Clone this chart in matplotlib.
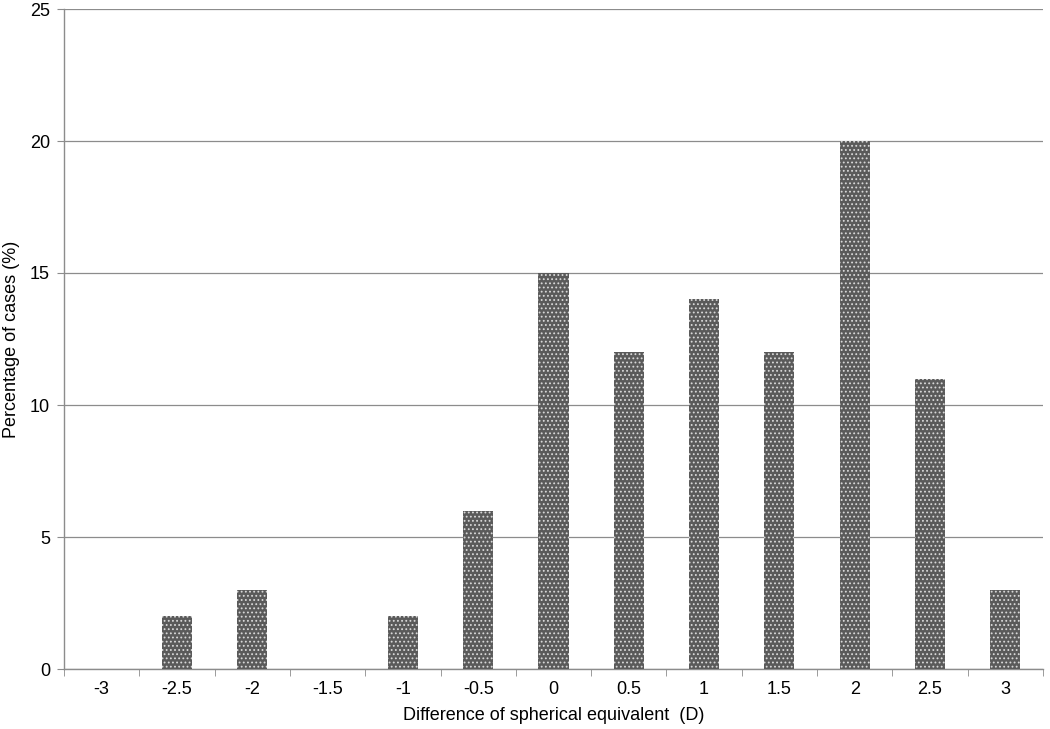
import matplotlib.pyplot as plt
import numpy as np

categories = ["-3", "-2.5", "-2", "-1.5", "-1", "-0.5", "0", "0.5", "1", "1.5", "2", "2.5", "3"]
percentages = [0, 2, 3, 0, 2, 6, 15, 12, 14, 12, 20, 11, 3]

plt.rcParams["font.family"] = ["Liberation Sans", "DejaVu Sans"]
plt.rcParams["hatch.linewidth"] = 0.8

fig = plt.figure(figsize=(10.5, 7.29), dpi=100)
ax = fig.add_axes([64 / 1050, 60 / 729, 979 / 1050, 660 / 729])

x = np.arange(len(categories))
ax.bar(x, percentages, width=0.4, color="#5a5a5a", edgecolor="#d8d8d8",
       hatch="....", linewidth=0, zorder=3)

ax.set_xlim(-0.5, len(categories) - 0.5)
ax.set_ylim(0, 25)
ax.set_yticks(range(0, 26, 5))
ax.yaxis.grid(True, color="#8c8c8c", linewidth=0.9)
ax.set_axisbelow(True)

ax.set_xticks(x)
ax.set_xticklabels(categories)
ax.set_xticks(np.arange(-0.5, len(categories)), minor=True)
ax.tick_params(axis="x", which="major", length=0, pad=9)
ax.tick_params(axis="x", which="minor", length=5, color="#8c8c8c")
ax.tick_params(axis="y", length=5, color="#8c8c8c", pad=5)
ax.tick_params(labelsize=13)

for side in ["top", "right"]:
    ax.spines[side].set_visible(False)
for side in ["left", "bottom"]:
    ax.spines[side].set_color("#8c8c8c")
    ax.spines[side].set_linewidth(1.0)

ax.set_xlabel("Difference of spherical equivalent  (D)", fontsize=13, labelpad=6)
ax.set_ylabel("Percentage of cases (%)", fontsize=13, labelpad=7)

fig.savefig("out.png", dpi=100)
